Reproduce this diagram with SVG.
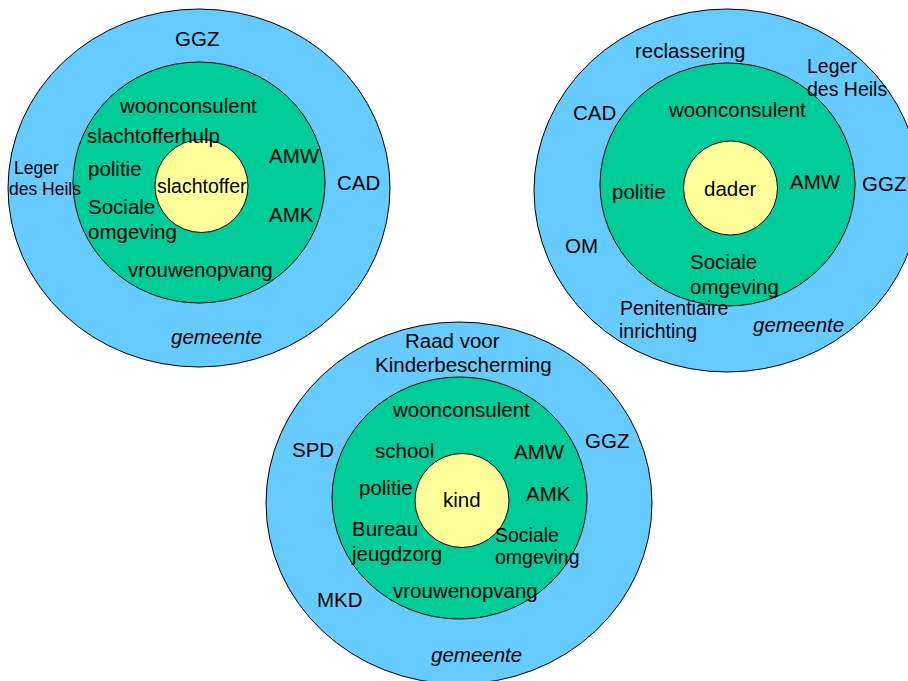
<svg xmlns="http://www.w3.org/2000/svg" width="908" height="681" viewBox="0 0 908 681">
<style>
.outer{fill:#66ccff;stroke:#000;stroke-width:1}
.mid{fill:#00cc99;stroke:#000;stroke-width:1}
.core{fill:#ffff99;stroke:#000;stroke-width:1}
text{font-family:"Liberation Sans",Arial,sans-serif;font-size:20.5px;fill:#000}
.sm{font-size:17.5px}
.c{font-size:19.5px}
.it{font-style:italic}
</style>
<rect width="908" height="681" fill="#fff"/>
<g id="slachtoffer-diagram">
<ellipse class="outer" cx="199" cy="188" rx="191" ry="179"/>
<ellipse class="mid" cx="199" cy="182.5" rx="126" ry="120.5"/>
<circle class="core" cx="201.5" cy="186" r="46.5"/>
<text x="175" y="46">GGZ</text>
<text x="120" y="113">woonconsulent</text>
<text x="87" y="143">slachtofferhulp</text>
<text x="88" y="176">politie</text>
<text x="88" y="214">Sociale</text>
<text x="88" y="239">omgeving</text>
<text x="128" y="277">vrouwenopvang</text>
<text x="269" y="163">AMW</text>
<text x="269" y="222">AMK</text>
<text x="337" y="190">CAD</text>
<text class="sm" x="14" y="174">Leger</text>
<text class="sm" x="9" y="195">des Heils</text>
<text class="c" x="157" y="193">slachtoffer</text>
<text class="it" x="171" y="344">gemeente</text>
</g>
<g id="dader-diagram">
<ellipse class="outer" cx="727" cy="190.5" rx="193" ry="181.5"/>
<ellipse class="mid" cx="727.5" cy="184.5" rx="127.5" ry="121.5"/>
<circle class="core" cx="730.5" cy="188" r="47"/>
<text x="635" y="58">reclassering</text>
<text class="c" x="807" y="73">Leger</text>
<text class="c" x="807" y="96">des Heils</text>
<text x="573" y="120">CAD</text>
<text x="669" y="117">woonconsulent</text>
<text x="612" y="199">politie</text>
<text x="704" y="196">dader</text>
<text x="790" y="189">AMW</text>
<text x="862" y="191">GGZ</text>
<text x="565" y="253">OM</text>
<text x="690" y="269">Sociale</text>
<text x="690" y="294">omgeving</text>
<text class="c" x="620" y="315">Penitentiaire</text>
<text class="c" x="619" y="338">inrichting</text>
<text class="it" x="753" y="332">gemeente</text>
</g>
<g id="kind-diagram">
<ellipse class="outer" cx="459" cy="503" rx="193" ry="181"/>
<ellipse class="mid" cx="459.5" cy="498" rx="127.5" ry="121"/>
<circle class="core" cx="462" cy="500.5" r="47"/>
<text x="405" y="348">Raad voor</text>
<text x="375" y="372">Kinderbescherming</text>
<text x="393" y="417">woonconsulent</text>
<text x="292" y="457">SPD</text>
<text x="375" y="458">school</text>
<text x="514" y="459">AMW</text>
<text x="585" y="448">GGZ</text>
<text x="359" y="495">politie</text>
<text x="443" y="507">kind</text>
<text x="526" y="501">AMK</text>
<text x="352" y="536">Bureau</text>
<text x="352" y="561">jeugdzorg</text>
<text class="c" x="495" y="542">Sociale</text>
<text class="c" x="495" y="564">omgeving</text>
<text x="317" y="607">MKD</text>
<text x="393" y="598">vrouwenopvang</text>
<text class="it" x="431" y="662">gemeente</text>
</g>
<g id="connectors"/>
</svg>
